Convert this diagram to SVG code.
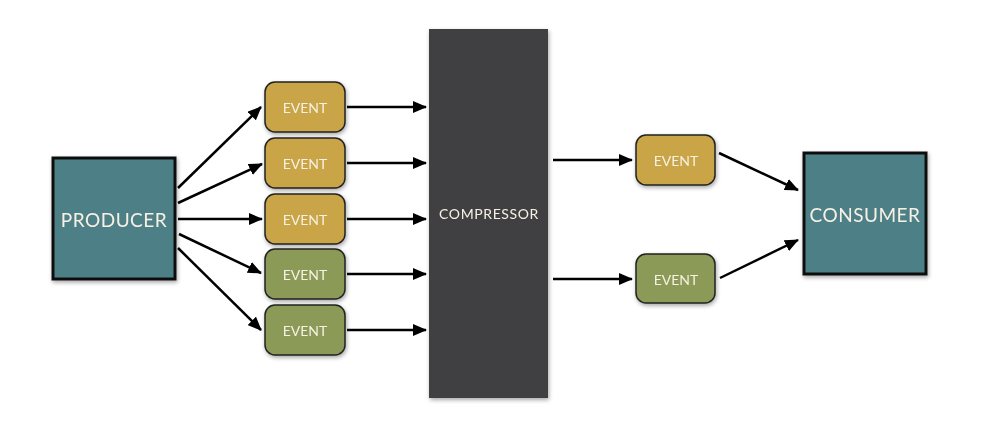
<svg xmlns="http://www.w3.org/2000/svg" width="986" height="426" viewBox="0 0 986 426">
<defs>
<marker id="ah" markerWidth="14" markerHeight="12" viewBox="0 0 14 12" refX="13" refY="6" orient="auto" markerUnits="userSpaceOnUse">
<path d="M0,0 L14,6 L0,12 Z" fill="#000"/>
</marker>
<filter id="sh" x="-10%" y="-10%" width="130%" height="130%">
<feGaussianBlur in="SourceAlpha" stdDeviation="2"/>
<feOffset dx="1" dy="2"/>
<feComponentTransfer><feFuncA type="linear" slope="0.35"/></feComponentTransfer>
<feMerge><feMergeNode/><feMergeNode in="SourceGraphic"/></feMerge>
</filter>
</defs>
<style>
.big{fill:#4e7f87;stroke:#111;stroke-width:3}
.gold{fill:#c9a547;stroke:#222;stroke-width:1.5}
.green{fill:#8b9a57;stroke:#222;stroke-width:1.5}
.comp{fill:#414143}
text{font-family:Lato,"Liberation Sans",sans-serif;fill:#f6f1e4;text-anchor:middle;dominant-baseline:central}
.bt{font-size:19px;letter-spacing:0.5px}
.et{font-size:14px}
.ct{font-size:14px;letter-spacing:0.6px}
.c line{stroke:#000;stroke-width:2.5;marker-end:url(#ah)}
</style>
<rect width="986" height="426" fill="#fff"/>
<g class="c" id="connectors">
<line x1="178" y1="188" x2="261" y2="107"/>
<line x1="178" y1="203" x2="262" y2="164"/>
<line x1="178" y1="219" x2="262" y2="219"/>
<line x1="179" y1="234" x2="261" y2="273"/>
<line x1="178" y1="248" x2="261" y2="330"/>
<line x1="347" y1="107" x2="426" y2="107"/>
<line x1="347" y1="163" x2="426" y2="163"/>
<line x1="347" y1="219" x2="426" y2="219"/>
<line x1="347" y1="274" x2="426" y2="274"/>
<line x1="347" y1="330" x2="426" y2="330"/>
<line x1="553" y1="160" x2="632" y2="160"/>
<line x1="553" y1="279" x2="632" y2="279"/>
<line x1="719" y1="153" x2="798" y2="190"/>
<line x1="720" y1="278" x2="798" y2="240"/>
</g>
<g id="producer" filter="url(#sh)"><rect class="big" x="53" y="158" width="122" height="121"/><text class="bt" x="114" y="219">PRODUCER</text></g>
<g id="event1" filter="url(#sh)"><rect class="gold" x="265" y="82" width="80" height="50" rx="10"/><text class="et" x="305" y="107">EVENT</text></g>
<g id="event2" filter="url(#sh)"><rect class="gold" x="265" y="138" width="80" height="50" rx="10"/><text class="et" x="305" y="163">EVENT</text></g>
<g id="event3" filter="url(#sh)"><rect class="gold" x="265" y="194" width="80" height="50" rx="10"/><text class="et" x="305" y="219">EVENT</text></g>
<g id="event4" filter="url(#sh)"><rect class="green" x="265" y="249" width="80" height="50" rx="10"/><text class="et" x="305" y="274">EVENT</text></g>
<g id="event5" filter="url(#sh)"><rect class="green" x="265" y="305" width="80" height="50" rx="10"/><text class="et" x="305" y="330">EVENT</text></g>
<g id="compressor" filter="url(#sh)"><rect class="comp" x="429" y="29" width="119" height="369"/><text class="ct" x="489" y="213">COMPRESSOR</text></g>
<g id="event6" filter="url(#sh)"><rect class="gold" x="636" y="135" width="79" height="50" rx="10"/><text class="et" x="676" y="160">EVENT</text></g>
<g id="event7" filter="url(#sh)"><rect class="green" x="636" y="254" width="79" height="49" rx="10"/><text class="et" x="676" y="279">EVENT</text></g>
<g id="consumer" filter="url(#sh)"><rect class="big" x="804" y="153" width="122" height="121"/><text class="bt" x="865" y="214">CONSUMER</text></g>
</svg>
